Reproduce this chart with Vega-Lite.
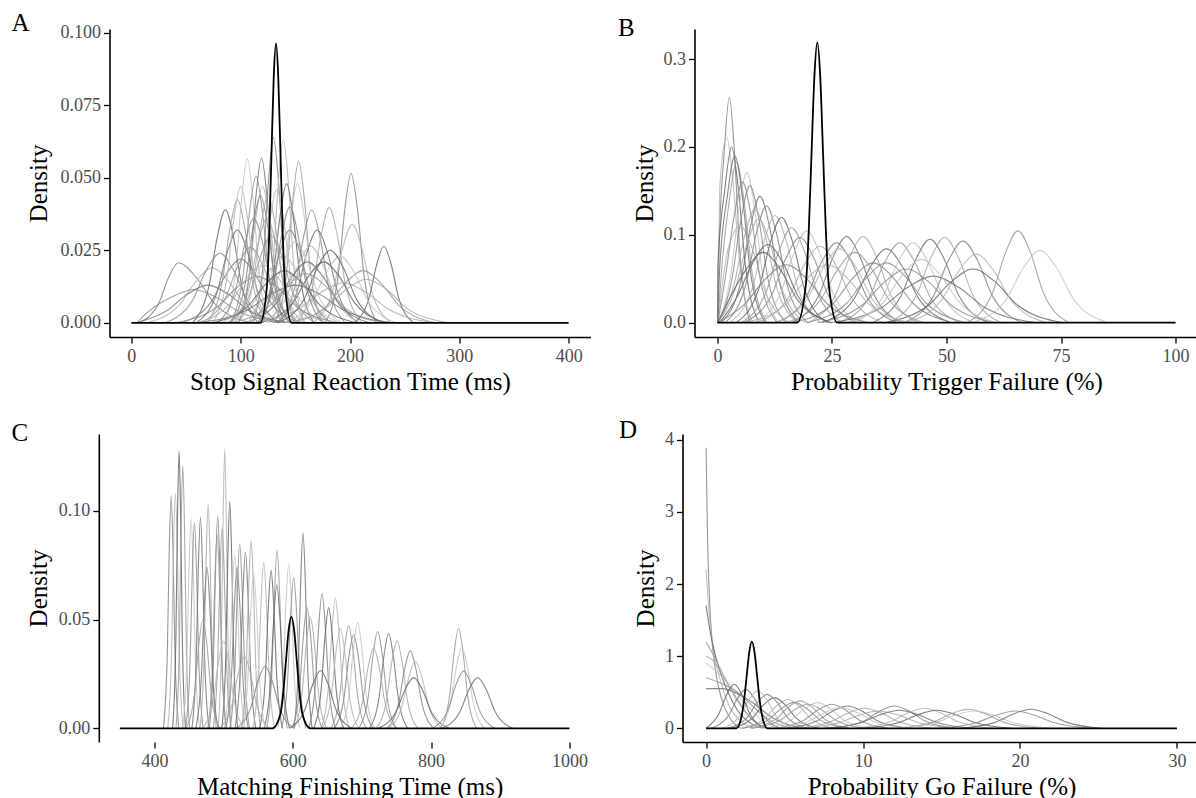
{
"$schema":"https://vega.github.io/schema/vega-lite/v6.json",
"background":"white",
"padding":{"left":11.5,"top":10,"right":0,"bottom":0},
"config":{
 "view":{"stroke":null},
 "axis":{"grid":false,"domainColor":"#000","domainWidth":1.6,"tickColor":"#000","tickWidth":1.3,"tickSize":6,"labelFont":"Liberation Serif","labelFontSize":18,"labelColor":"#4d4d4d","labelPadding":3,"titleFont":"Liberation Serif","titleFontSize":25,"titleFontWeight":"normal","titleColor":"#000","labelFlush":false,"labelOverlap":false},
 "axisX":{"labelPadding":4,"titleY":52.3,"titleBaseline":"alphabetic"},
 "axisY":{"titleAngle":270,"titleY":154,"titleAlign":"center","titleBaseline":"alphabetic"},
 "title":{"font":"Liberation Serif","fontSize":25,"fontWeight":"normal","color":"#000","anchor":"start","frame":"group","offset":0,"baseline":"alphabetic","dy":16},
 "line":{"interpolate":"monotone"}
},
"datasets":{
"A":[
{"c":1,"x":7,"y":0},{"c":1,"x":25,"y":0.0067},{"c":1,"x":34,"y":0.0156},{"c":1,"x":43,"y":0.0207},{"c":1,"x":59.5,"y":0.0156},{"c":1,"x":76,"y":0.0067},{"c":1,"x":109,"y":0},
{"c":2,"x":14,"y":0},{"c":2,"x":44,"y":0.0062},{"c":2,"x":59,"y":0.0143},{"c":2,"x":74,"y":0.019},{"c":2,"x":89,"y":0.0143},{"c":2,"x":104,"y":0.0062},{"c":2,"x":134,"y":0},
{"c":3,"x":56,"y":0},{"c":3,"x":71,"y":0.0127},{"c":3,"x":78.5,"y":0.0294},{"c":3,"x":86,"y":0.039},{"c":3,"x":93.5,"y":0.0294},{"c":3,"x":101,"y":0.0127},{"c":3,"x":116,"y":0},
{"c":4,"x":69,"y":0},{"c":4,"x":83,"y":0.0138},{"c":4,"x":90,"y":0.0321},{"c":4,"x":97,"y":0.0425},{"c":4,"x":104,"y":0.0321},{"c":4,"x":111,"y":0.0138},{"c":4,"x":125,"y":0},
{"c":5,"x":85,"y":0},{"c":5,"x":95.5,"y":0.0184},{"c":5,"x":100.8,"y":0.0427},{"c":5,"x":106,"y":0.0566},{"c":5,"x":111.2,"y":0.0427},{"c":5,"x":116.5,"y":0.0184},{"c":5,"x":127,"y":0},
{"c":6,"x":90.3,"y":0},{"c":6,"x":102.2,"y":0.0164},{"c":6,"x":108.1,"y":0.0382},{"c":6,"x":114,"y":0.0506},{"c":6,"x":119.9,"y":0.0382},{"c":6,"x":125.8,"y":0.0164},{"c":6,"x":137.7,"y":0},
{"c":7,"x":98,"y":0},{"c":7,"x":108.5,"y":0.0185},{"c":7,"x":113.8,"y":0.043},{"c":7,"x":119,"y":0.0569},{"c":7,"x":124.2,"y":0.043},{"c":7,"x":129.5,"y":0.0185},{"c":7,"x":140,"y":0},
{"c":8,"x":94.5,"y":0},{"c":8,"x":107.3,"y":0.0153},{"c":8,"x":113.6,"y":0.0355},{"c":8,"x":120,"y":0.047},{"c":8,"x":126.4,"y":0.0355},{"c":8,"x":132.7,"y":0.0153},{"c":8,"x":145.5,"y":0},
{"c":9,"x":111.1,"y":0},{"c":9,"x":120.6,"y":0.0207},{"c":9,"x":125.3,"y":0.0482},{"c":9,"x":130,"y":0.0638},{"c":9,"x":134.7,"y":0.0482},{"c":9,"x":139.4,"y":0.0207},{"c":9,"x":148.9,"y":0},
{"c":10,"x":120.1,"y":0},{"c":10,"x":129.6,"y":0.0205},{"c":10,"x":134.3,"y":0.0477},{"c":10,"x":139,"y":0.0632},{"c":10,"x":143.7,"y":0.0477},{"c":10,"x":148.4,"y":0.0205},{"c":10,"x":157.9,"y":0},
{"c":11,"x":117.1,"y":0},{"c":11,"x":129.6,"y":0.0156},{"c":11,"x":135.8,"y":0.0362},{"c":11,"x":142,"y":0.048},{"c":11,"x":148.2,"y":0.0362},{"c":11,"x":154.4,"y":0.0156},{"c":11,"x":166.9,"y":0},
{"c":12,"x":131.4,"y":0},{"c":12,"x":142.2,"y":0.0181},{"c":12,"x":147.6,"y":0.0421},{"c":12,"x":153,"y":0.0557},{"c":12,"x":158.4,"y":0.0421},{"c":12,"x":163.8,"y":0.0181},{"c":12,"x":174.6,"y":0},
{"c":13,"x":127.1,"y":0},{"c":13,"x":139.6,"y":0.0156},{"c":13,"x":145.8,"y":0.0362},{"c":13,"x":152,"y":0.048},{"c":13,"x":158.2,"y":0.0362},{"c":13,"x":164.4,"y":0.0156},{"c":13,"x":176.9,"y":0},
{"c":14,"x":134.4,"y":0},{"c":14,"x":149.7,"y":0.0127},{"c":14,"x":157.4,"y":0.0294},{"c":14,"x":165,"y":0.039},{"c":14,"x":172.6,"y":0.0294},{"c":14,"x":180.3,"y":0.0127},{"c":14,"x":195.6,"y":0},
{"c":15,"x":132.5,"y":0},{"c":15,"x":151.3,"y":0.0104},{"c":15,"x":160.6,"y":0.0242},{"c":15,"x":170,"y":0.032},{"c":15,"x":179.4,"y":0.0242},{"c":15,"x":188.8,"y":0.0104},{"c":15,"x":207.5,"y":0},
{"c":16,"x":151,"y":0},{"c":16,"x":166,"y":0.0129},{"c":16,"x":173.5,"y":0.03},{"c":16,"x":181,"y":0.0397},{"c":16,"x":188.5,"y":0.03},{"c":16,"x":196,"y":0.0129},{"c":16,"x":211,"y":0},
{"c":17,"x":177.6,"y":0},{"c":17,"x":189.3,"y":0.0167},{"c":17,"x":195.2,"y":0.0389},{"c":17,"x":201,"y":0.0515},{"c":17,"x":206.9,"y":0.0389},{"c":17,"x":212.7,"y":0.0167},{"c":17,"x":224.4,"y":0},
{"c":18,"x":166.6,"y":0},{"c":18,"x":184.3,"y":0.011},{"c":18,"x":193.2,"y":0.0257},{"c":18,"x":202,"y":0.034},{"c":18,"x":210.9,"y":0.0257},{"c":18,"x":219.7,"y":0.011},{"c":18,"x":237.4,"y":0},
{"c":19,"x":204,"y":0},{"c":19,"x":217.5,"y":0.0086},{"c":19,"x":224.3,"y":0.0199},{"c":19,"x":231,"y":0.0264},{"c":19,"x":237.8,"y":0.0199},{"c":19,"x":244.5,"y":0.0086},{"c":19,"x":258,"y":0},
{"c":20,"x":146,"y":0},{"c":20,"x":179,"y":0.0059},{"c":20,"x":195.5,"y":0.0136},{"c":20,"x":212,"y":0.018},{"c":20,"x":228.5,"y":0.0136},{"c":20,"x":245,"y":0.0059},{"c":20,"x":278,"y":0},
{"c":21,"x":140,"y":0},{"c":21,"x":165.5,"y":0.0075},{"c":21,"x":178.3,"y":0.0174},{"c":21,"x":191,"y":0.023},{"c":21,"x":203.8,"y":0.0174},{"c":21,"x":216.5,"y":0.0075},{"c":21,"x":242,"y":0},
{"c":22,"x":5,"y":0},{"c":22,"x":15,"y":0.0037},{"c":22,"x":36,"y":0.0087},{"c":22,"x":57,"y":0.0115},{"c":22,"x":78,"y":0.0087},{"c":22,"x":99,"y":0.0037},{"c":22,"x":141,"y":0},
{"c":23,"x":59.5,"y":0},{"c":23,"x":78.3,"y":0.0104},{"c":23,"x":87.6,"y":0.0242},{"c":23,"x":97,"y":0.032},{"c":23,"x":106.4,"y":0.0242},{"c":23,"x":115.8,"y":0.0104},{"c":23,"x":134.5,"y":0},
{"c":24,"x":91,"y":0},{"c":24,"x":107.5,"y":0.0117},{"c":24,"x":115.8,"y":0.0272},{"c":24,"x":124,"y":0.036},{"c":24,"x":132.3,"y":0.0272},{"c":24,"x":140.5,"y":0.0117},{"c":24,"x":157,"y":0},
{"c":25,"x":107.5,"y":0},{"c":25,"x":126.3,"y":0.0104},{"c":25,"x":135.6,"y":0.0242},{"c":25,"x":145,"y":0.032},{"c":25,"x":154.4,"y":0.0242},{"c":25,"x":163.8,"y":0.0104},{"c":25,"x":182.5,"y":0},
{"c":26,"x":119,"y":0},{"c":26,"x":141.5,"y":0.0086},{"c":26,"x":152.8,"y":0.0199},{"c":26,"x":164,"y":0.0264},{"c":26,"x":175.3,"y":0.0199},{"c":26,"x":186.5,"y":0.0086},{"c":26,"x":209,"y":0},
{"c":27,"x":119,"y":0},{"c":27,"x":147.5,"y":0.0068},{"c":27,"x":161.8,"y":0.0159},{"c":27,"x":176,"y":0.021},{"c":27,"x":190.3,"y":0.0159},{"c":27,"x":204.5,"y":0.0068},{"c":27,"x":233,"y":0},
{"c":28,"x":62.8,"y":0},{"c":28,"x":85.9,"y":0.0085},{"c":28,"x":97.5,"y":0.0196},{"c":28,"x":109,"y":0.026},{"c":28,"x":120.5,"y":0.0196},{"c":28,"x":132.1,"y":0.0085},{"c":28,"x":155.2,"y":0},
{"c":29,"x":86.8,"y":0},{"c":29,"x":112.9,"y":0.0075},{"c":29,"x":126,"y":0.0174},{"c":29,"x":139,"y":0.023},{"c":29,"x":152,"y":0.0174},{"c":29,"x":165.1,"y":0.0075},{"c":29,"x":191.2,"y":0},
{"c":30,"x":30.9,"y":0},{"c":30,"x":56,"y":0.0078},{"c":30,"x":68.5,"y":0.0181},{"c":30,"x":81,"y":0.024},{"c":30,"x":93.5,"y":0.0181},{"c":30,"x":106,"y":0.0078},{"c":30,"x":131.1,"y":0},
{"c":31,"x":104,"y":0},{"c":31,"x":132.5,"y":0.0068},{"c":31,"x":146.8,"y":0.0159},{"c":31,"x":161,"y":0.021},{"c":31,"x":175.3,"y":0.0159},{"c":31,"x":189.5,"y":0.0068},{"c":31,"x":218,"y":0},
{"c":32,"x":110,"y":0},{"c":32,"x":152,"y":0.0045},{"c":32,"x":173,"y":0.0104},{"c":32,"x":194,"y":0.0138},{"c":32,"x":215,"y":0.0104},{"c":32,"x":236,"y":0.0045},{"c":32,"x":278,"y":0},
{"c":33,"x":91,"y":0},{"c":33,"x":104.5,"y":0.0143},{"c":33,"x":111.3,"y":0.0332},{"c":33,"x":118,"y":0.044},{"c":33,"x":124.8,"y":0.0332},{"c":33,"x":131.5,"y":0.0143},{"c":33,"x":145,"y":0},
{"c":34,"x":106.9,"y":0},{"c":34,"x":120,"y":0.015},{"c":34,"x":126.5,"y":0.0347},{"c":34,"x":133,"y":0.046},{"c":34,"x":139.5,"y":0.0347},{"c":34,"x":146,"y":0.015},{"c":34,"x":159.1,"y":0},
{"c":35,"x":134,"y":0},{"c":35,"x":158,"y":0.0081},{"c":35,"x":170,"y":0.0189},{"c":35,"x":182,"y":0.025},{"c":35,"x":194,"y":0.0189},{"c":35,"x":206,"y":0.0081},{"c":35,"x":230,"y":0},
{"c":36,"x":88.1,"y":0},{"c":36,"x":108.1,"y":0.0098},{"c":36,"x":118,"y":0.0227},{"c":36,"x":128,"y":0.03},{"c":36,"x":138,"y":0.0227},{"c":36,"x":147.9,"y":0.0098},{"c":36,"x":167.9,"y":0},
{"c":37,"x":107.1,"y":0},{"c":37,"x":128.6,"y":0.0091},{"c":37,"x":139.3,"y":0.0211},{"c":37,"x":150,"y":0.028},{"c":37,"x":160.7,"y":0.0211},{"c":37,"x":171.5,"y":0.0091},{"c":37,"x":192.9,"y":0},
{"c":38,"x":79,"y":0},{"c":38,"x":95.5,"y":0.0117},{"c":38,"x":103.8,"y":0.0272},{"c":38,"x":112,"y":0.036},{"c":38,"x":120.3,"y":0.0272},{"c":38,"x":128.5,"y":0.0117},{"c":38,"x":145,"y":0},
{"c":39,"x":5,"y":0},{"c":39,"x":32.5,"y":0.0042},{"c":39,"x":51,"y":0.0098},{"c":39,"x":70,"y":0.013},{"c":39,"x":89,"y":0.0098},{"c":39,"x":107.5,"y":0.0042},{"c":39,"x":145,"y":0},
{"c":40,"x":140,"y":0},{"c":40,"x":177.5,"y":0.0049},{"c":40,"x":196,"y":0.0113},{"c":40,"x":215,"y":0.015},{"c":40,"x":234,"y":0.0113},{"c":40,"x":252.5,"y":0.0049},{"c":40,"x":290,"y":0},
{"c":41,"x":46,"y":0},{"c":41,"x":73,"y":0.0072},{"c":41,"x":86.5,"y":0.0166},{"c":41,"x":100,"y":0.022},{"c":41,"x":113.5,"y":0.0166},{"c":41,"x":127,"y":0.0072},{"c":41,"x":154,"y":0},
{"c":42,"x":60,"y":0},{"c":42,"x":90,"y":0.0065},{"c":42,"x":105,"y":0.0151},{"c":42,"x":120,"y":0.02},{"c":42,"x":135,"y":0.0151},{"c":42,"x":150,"y":0.0065},{"c":42,"x":180,"y":0},
{"c":43,"x":74,"y":0},{"c":43,"x":107,"y":0.0059},{"c":43,"x":123.5,"y":0.0136},{"c":43,"x":140,"y":0.018},{"c":43,"x":156.5,"y":0.0136},{"c":43,"x":173,"y":0.0059},{"c":43,"x":206,"y":0},
{"c":44,"x":91,"y":0},{"c":44,"x":125.5,"y":0.0055},{"c":44,"x":142.8,"y":0.0128},{"c":44,"x":160,"y":0.017},{"c":44,"x":177.3,"y":0.0128},{"c":44,"x":194.5,"y":0.0055},{"c":44,"x":229,"y":0},
{"c":45,"x":82,"y":0},{"c":45,"x":106,"y":0.0081},{"c":45,"x":118,"y":0.0189},{"c":45,"x":130,"y":0.025},{"c":45,"x":142,"y":0.0189},{"c":45,"x":154,"y":0.0081},{"c":45,"x":178,"y":0},
{"c":46,"x":40,"y":0},{"c":46,"x":77.5,"y":0.0052},{"c":46,"x":96.3,"y":0.0121},{"c":46,"x":115,"y":0.016},{"c":46,"x":133.8,"y":0.0121},{"c":46,"x":152.5,"y":0.0052},{"c":46,"x":190,"y":0},
{"c":47,"x":60,"y":0},{"c":47,"x":105,"y":0.0042},{"c":47,"x":127.5,"y":0.0098},{"c":47,"x":150,"y":0.013},{"c":47,"x":172.5,"y":0.0098},{"c":47,"x":195,"y":0.0042},{"c":47,"x":240,"y":0},
{"c":48,"x":98,"y":0},{"c":48,"x":111.5,"y":0.0143},{"c":48,"x":118.3,"y":0.0332},{"c":48,"x":125,"y":0.044},{"c":48,"x":131.8,"y":0.0332},{"c":48,"x":138.5,"y":0.0143},{"c":48,"x":152,"y":0},
{"c":49,"x":115,"y":0},{"c":49,"x":130,"y":0.013},{"c":49,"x":137.5,"y":0.0302},{"c":49,"x":145,"y":0.04},{"c":49,"x":152.5,"y":0.0302},{"c":49,"x":160,"y":0.013},{"c":49,"x":175,"y":0},
{"c":50,"x":74.5,"y":0},{"c":50,"x":87.3,"y":0.0153},{"c":50,"x":93.6,"y":0.0355},{"c":50,"x":100,"y":0.047},{"c":50,"x":106.4,"y":0.0355},{"c":50,"x":112.7,"y":0.0153},{"c":50,"x":125.5,"y":0}
],
"Ab":[{"x":0,"y":0},{"x":118,"y":0},{"x":124.1,"y":0.013},{"x":126.15,"y":0.0313},{"x":128.2,"y":0.0585},{"x":130.25,"y":0.0849},{"x":132.3,"y":0.0963},{"x":134.35,"y":0.0849},{"x":136.4,"y":0.0585},{"x":138.45,"y":0.0313},{"x":140.5,"y":0.013},{"x":146.6,"y":0},{"x":400,"y":0}],
"B":[
{"c":1,"x":0.1,"y":0},{"c":1,"x":0.35,"y":0.0834},{"c":1,"x":1.48,"y":0.1937},{"c":1,"x":2.6,"y":0.2566},{"c":1,"x":3.73,"y":0.1937},{"c":1,"x":4.85,"y":0.0834},{"c":1,"x":7.1,"y":0},
{"c":2,"x":0.1,"y":0},{"c":2,"x":0.58,"y":0.159},{"c":2,"x":2,"y":0.211},{"c":2,"x":3.43,"y":0.159},{"c":2,"x":4.85,"y":0.0686},{"c":2,"x":7.7,"y":0},
{"c":3,"x":0.05,"y":0},{"c":3,"x":0.1,"y":0.065},{"c":3,"x":1.6,"y":0.151},{"c":3,"x":3.1,"y":0.2},{"c":3,"x":4.6,"y":0.151},{"c":3,"x":6.1,"y":0.065},{"c":3,"x":9.1,"y":0},
{"c":4,"x":0.1,"y":0},{"c":4,"x":0.9,"y":0.0592},{"c":4,"x":2.55,"y":0.1374},{"c":4,"x":4.2,"y":0.182},{"c":4,"x":5.85,"y":0.1374},{"c":4,"x":7.5,"y":0.0592},{"c":4,"x":10.8,"y":0},
{"c":5,"x":0.1,"y":0},{"c":5,"x":2.95,"y":0.0556},{"c":5,"x":4.68,"y":0.1291},{"c":5,"x":6.4,"y":0.171},{"c":5,"x":8.13,"y":0.1291},{"c":5,"x":9.85,"y":0.0556},{"c":5,"x":13.3,"y":0},
{"c":6,"x":0.2,"y":0},{"c":6,"x":3.2,"y":0.0507},{"c":6,"x":5.15,"y":0.1178},{"c":6,"x":7.1,"y":0.156},{"c":6,"x":9.05,"y":0.1178},{"c":6,"x":11,"y":0.0507},{"c":6,"x":14.9,"y":0},
{"c":7,"x":0.9,"y":0},{"c":7,"x":5.1,"y":0.0468},{"c":7,"x":7.2,"y":0.1087},{"c":7,"x":9.3,"y":0.144},{"c":7,"x":11.4,"y":0.1087},{"c":7,"x":13.5,"y":0.0468},{"c":7,"x":17.7,"y":0},
{"c":8,"x":0.1,"y":0},{"c":8,"x":3.55,"y":0.0419},{"c":8,"x":5.88,"y":0.0974},{"c":8,"x":8.2,"y":0.129},{"c":8,"x":10.53,"y":0.0974},{"c":8,"x":12.85,"y":0.0419},{"c":8,"x":17.5,"y":0},
{"c":9,"x":1.7,"y":0},{"c":9,"x":6.2,"y":0.0432},{"c":9,"x":8.45,"y":0.1004},{"c":9,"x":10.7,"y":0.133},{"c":9,"x":12.95,"y":0.1004},{"c":9,"x":15.2,"y":0.0432},{"c":9,"x":19.7,"y":0},
{"c":10,"x":2.7,"y":0},{"c":10,"x":7.65,"y":0.0397},{"c":10,"x":10.13,"y":0.0921},{"c":10,"x":12.6,"y":0.122},{"c":10,"x":15.08,"y":0.0921},{"c":10,"x":17.55,"y":0.0397},{"c":10,"x":22.5,"y":0},
{"c":11,"x":4.1,"y":0},{"c":11,"x":9.05,"y":0.039},{"c":11,"x":11.53,"y":0.0906},{"c":11,"x":14,"y":0.12},{"c":11,"x":16.48,"y":0.0906},{"c":11,"x":18.95,"y":0.039},{"c":11,"x":23.9,"y":0},
{"c":12,"x":5.1,"y":0},{"c":12,"x":10.65,"y":0.0351},{"c":12,"x":13.43,"y":0.0815},{"c":12,"x":16.2,"y":0.108},{"c":12,"x":18.98,"y":0.0815},{"c":12,"x":21.75,"y":0.0351},{"c":12,"x":27.3,"y":0},
{"c":13,"x":8.1,"y":0},{"c":13,"x":13.8,"y":0.034},{"c":13,"x":16.65,"y":0.0789},{"c":13,"x":19.5,"y":0.1045},{"c":13,"x":22.35,"y":0.0789},{"c":13,"x":25.2,"y":0.034},{"c":13,"x":30.9,"y":0},
{"c":14,"x":5.7,"y":0},{"c":14,"x":11.85,"y":0.0315},{"c":14,"x":14.93,"y":0.0732},{"c":14,"x":18,"y":0.097},{"c":14,"x":21.08,"y":0.0732},{"c":14,"x":24.15,"y":0.0315},{"c":14,"x":30.3,"y":0},
{"c":15,"x":16.2,"y":0},{"c":15,"x":22.2,"y":0.0319},{"c":15,"x":25.2,"y":0.074},{"c":15,"x":28.2,"y":0.098},{"c":15,"x":31.2,"y":0.074},{"c":15,"x":34.2,"y":0.0319},{"c":15,"x":40.2,"y":0},
{"c":16,"x":19.8,"y":0},{"c":16,"x":25.8,"y":0.0319},{"c":16,"x":28.8,"y":0.074},{"c":16,"x":31.8,"y":0.098},{"c":16,"x":34.8,"y":0.074},{"c":16,"x":37.8,"y":0.0319},{"c":16,"x":43.8,"y":0},
{"c":17,"x":12.8,"y":0},{"c":17,"x":19.4,"y":0.0296},{"c":17,"x":22.7,"y":0.0687},{"c":17,"x":26,"y":0.091},{"c":17,"x":29.3,"y":0.0687},{"c":17,"x":32.6,"y":0.0296},{"c":17,"x":39.2,"y":0},
{"c":18,"x":12.6,"y":0},{"c":18,"x":19.65,"y":0.0273},{"c":18,"x":23.18,"y":0.0634},{"c":18,"x":26.7,"y":0.084},{"c":18,"x":30.23,"y":0.0634},{"c":18,"x":33.75,"y":0.0273},{"c":18,"x":40.8,"y":0},
{"c":19,"x":22.8,"y":0},{"c":19,"x":29.85,"y":0.0273},{"c":19,"x":33.38,"y":0.0634},{"c":19,"x":36.9,"y":0.084},{"c":19,"x":40.43,"y":0.0634},{"c":19,"x":43.95,"y":0.0273},{"c":19,"x":51,"y":0},
{"c":20,"x":26.6,"y":0},{"c":20,"x":33.2,"y":0.0296},{"c":20,"x":36.5,"y":0.0687},{"c":20,"x":39.8,"y":0.091},{"c":20,"x":43.1,"y":0.0687},{"c":20,"x":46.4,"y":0.0296},{"c":20,"x":53,"y":0},
{"c":21,"x":29.5,"y":0},{"c":21,"x":36.1,"y":0.0296},{"c":21,"x":39.4,"y":0.0687},{"c":21,"x":42.7,"y":0.091},{"c":21,"x":46,"y":0.0687},{"c":21,"x":49.3,"y":0.0296},{"c":21,"x":55.9,"y":0},
{"c":22,"x":19.5,"y":0},{"c":22,"x":28.2,"y":0.0221},{"c":22,"x":32.55,"y":0.0513},{"c":22,"x":36.9,"y":0.068},{"c":22,"x":41.25,"y":0.0513},{"c":22,"x":45.6,"y":0.0221},{"c":22,"x":54.3,"y":0},
{"c":23,"x":33.8,"y":0},{"c":23,"x":40.1,"y":0.0309},{"c":23,"x":43.25,"y":0.0717},{"c":23,"x":46.4,"y":0.095},{"c":23,"x":49.55,"y":0.0717},{"c":23,"x":52.7,"y":0.0309},{"c":23,"x":59,"y":0},
{"c":24,"x":37.3,"y":0},{"c":24,"x":43.45,"y":0.0315},{"c":24,"x":46.53,"y":0.0732},{"c":24,"x":49.6,"y":0.097},{"c":24,"x":52.68,"y":0.0732},{"c":24,"x":55.75,"y":0.0315},{"c":24,"x":61.9,"y":0},
{"c":25,"x":40.7,"y":0},{"c":25,"x":47.15,"y":0.0302},{"c":25,"x":50.38,"y":0.0702},{"c":25,"x":53.6,"y":0.093},{"c":25,"x":56.83,"y":0.0702},{"c":25,"x":60.05,"y":0.0302},{"c":25,"x":66.5,"y":0},
{"c":26,"x":41.2,"y":0},{"c":26,"x":48.85,"y":0.0254},{"c":26,"x":52.68,"y":0.0589},{"c":26,"x":56.5,"y":0.078},{"c":26,"x":60.33,"y":0.0589},{"c":26,"x":64.15,"y":0.0254},{"c":26,"x":71.8,"y":0},
{"c":27,"x":36.3,"y":0},{"c":27,"x":46.05,"y":0.0198},{"c":27,"x":50.93,"y":0.0461},{"c":27,"x":55.8,"y":0.061},{"c":27,"x":60.68,"y":0.0461},{"c":27,"x":65.55,"y":0.0198},{"c":27,"x":75.3,"y":0},
{"c":28,"x":54.5,"y":0},{"c":28,"x":60.05,"y":0.034},{"c":28,"x":62.83,"y":0.0789},{"c":28,"x":65.6,"y":0.1045},{"c":28,"x":68.38,"y":0.0789},{"c":28,"x":71.15,"y":0.034},{"c":28,"x":76.7,"y":0},
{"c":29,"x":55.7,"y":0},{"c":29,"x":63.05,"y":0.0267},{"c":29,"x":66.73,"y":0.0619},{"c":29,"x":70.4,"y":0.082},{"c":29,"x":74.08,"y":0.0619},{"c":29,"x":77.75,"y":0.0267},{"c":29,"x":85.1,"y":0},
{"c":30,"x":21.8,"y":0},{"c":30,"x":31.55,"y":0.0198},{"c":30,"x":36.43,"y":0.0461},{"c":30,"x":41.3,"y":0.061},{"c":30,"x":46.18,"y":0.0461},{"c":30,"x":51.05,"y":0.0198},{"c":30,"x":60.8,"y":0},
{"c":31,"x":24.6,"y":0},{"c":31,"x":35.85,"y":0.0172},{"c":31,"x":41.48,"y":0.04},{"c":31,"x":47.1,"y":0.053},{"c":31,"x":52.73,"y":0.04},{"c":31,"x":58.35,"y":0.0172},{"c":31,"x":69.6,"y":0},
{"c":32,"x":8.6,"y":0},{"c":32,"x":15.5,"y":0.0283},{"c":32,"x":18.95,"y":0.0657},{"c":32,"x":22.4,"y":0.087},{"c":32,"x":25.85,"y":0.0657},{"c":32,"x":29.3,"y":0.0283},{"c":32,"x":36.2,"y":0},
{"c":33,"x":16.6,"y":0},{"c":33,"x":25.3,"y":0.0221},{"c":33,"x":29.65,"y":0.0513},{"c":33,"x":34,"y":0.068},{"c":33,"x":38.35,"y":0.0513},{"c":33,"x":42.7,"y":0.0221},{"c":33,"x":51.4,"y":0},
{"c":34,"x":0.1,"y":0},{"c":34,"x":2.3,"y":0.083},{"c":34,"x":5,"y":0.11},{"c":34,"x":7.7,"y":0.083},{"c":34,"x":10.4,"y":0.0358},{"c":34,"x":15.8,"y":0},
{"c":35,"x":0.5,"y":0},{"c":35,"x":4.25,"y":0.0289},{"c":35,"x":7.63,"y":0.0672},{"c":35,"x":11,"y":0.089},{"c":35,"x":14.38,"y":0.0672},{"c":35,"x":17.75,"y":0.0289},{"c":35,"x":24.5,"y":0},
{"c":36,"x":15,"y":0},{"c":36,"x":22.5,"y":0.026},{"c":36,"x":26.25,"y":0.0604},{"c":36,"x":30,"y":0.08},{"c":36,"x":33.75,"y":0.0604},{"c":36,"x":37.5,"y":0.026},{"c":36,"x":45,"y":0},
{"c":37,"x":28,"y":0},{"c":37,"x":36.25,"y":0.0234},{"c":37,"x":40.38,"y":0.0544},{"c":37,"x":44.5,"y":0.072},{"c":37,"x":48.63,"y":0.0544},{"c":37,"x":52.75,"y":0.0234},{"c":37,"x":61,"y":0},
{"c":38,"x":0.1,"y":0},{"c":38,"x":1.75,"y":0.052},{"c":38,"x":3.63,"y":0.1208},{"c":38,"x":5.5,"y":0.16},{"c":38,"x":7.38,"y":0.1208},{"c":38,"x":9.25,"y":0.052},{"c":38,"x":13,"y":0},
{"c":39,"x":0.1,"y":0},{"c":39,"x":0.5,"y":0.0618},{"c":39,"x":2.15,"y":0.1435},{"c":39,"x":3.8,"y":0.19},{"c":39,"x":5.45,"y":0.1435},{"c":39,"x":7.1,"y":0.0618},{"c":39,"x":10.4,"y":0},
{"c":40,"x":0.1,"y":0},{"c":40,"x":3.9,"y":0.0384},{"c":40,"x":6.45,"y":0.0891},{"c":40,"x":9,"y":0.118},{"c":40,"x":11.55,"y":0.0891},{"c":40,"x":14.1,"y":0.0384},{"c":40,"x":19.2,"y":0},
{"c":41,"x":0.1,"y":0},{"c":41,"x":6,"y":0.0215},{"c":41,"x":10.5,"y":0.0498},{"c":41,"x":15,"y":0.066},{"c":41,"x":19.5,"y":0.0498},{"c":41,"x":24,"y":0.0215},{"c":41,"x":33,"y":0},
{"c":42,"x":6,"y":0},{"c":42,"x":15,"y":0.0215},{"c":42,"x":19.5,"y":0.0498},{"c":42,"x":24,"y":0.066},{"c":42,"x":28.5,"y":0.0498},{"c":42,"x":33,"y":0.0215},{"c":42,"x":42,"y":0},
{"c":43,"x":0.1,"y":0},{"c":43,"x":2.5,"y":0.026},{"c":43,"x":6.25,"y":0.0604},{"c":43,"x":10,"y":0.08},{"c":43,"x":13.75,"y":0.0604},{"c":43,"x":17.5,"y":0.026},{"c":43,"x":25,"y":0}
],
"Bb":[{"x":0,"y":0},{"x":17.4,"y":0},{"x":19.3,"y":0.0431},{"x":19.93,"y":0.1037},{"x":20.55,"y":0.1936},{"x":21.18,"y":0.2814},{"x":21.8,"y":0.319},{"x":22.43,"y":0.2814},{"x":23.05,"y":0.1936},{"x":23.68,"y":0.1037},{"x":24.3,"y":0.0431},{"x":26.2,"y":0},{"x":100,"y":0}],
"C":[
{"c":1,"x":413,"y":0},{"c":1,"x":418.6,"y":0.0348},{"c":1,"x":421.3,"y":0.0808},{"c":1,"x":424.1,"y":0.107},{"c":1,"x":426.9,"y":0.0808},{"c":1,"x":429.6,"y":0.0348},{"c":1,"x":435.2,"y":0},
{"c":2,"x":419.2,"y":0},{"c":2,"x":424.8,"y":0.0351},{"c":2,"x":427.5,"y":0.0815},{"c":2,"x":430.3,"y":0.108},{"c":2,"x":433.1,"y":0.0815},{"c":2,"x":435.9,"y":0.0351},{"c":2,"x":441.4,"y":0},
{"c":3,"x":426.3,"y":0},{"c":3,"x":431,"y":0.0415},{"c":3,"x":433.3,"y":0.0963},{"c":3,"x":435.6,"y":0.1276},{"c":3,"x":437.9,"y":0.0963},{"c":3,"x":440.3,"y":0.0415},{"c":3,"x":444.9,"y":0},
{"c":4,"x":431.1,"y":0},{"c":4,"x":436.1,"y":0.0392},{"c":4,"x":438.5,"y":0.0911},{"c":4,"x":441,"y":0.1207},{"c":4,"x":443.5,"y":0.0911},{"c":4,"x":446,"y":0.0392},{"c":4,"x":450.9,"y":0},
{"c":5,"x":440.7,"y":0},{"c":5,"x":446.9,"y":0.0313},{"c":5,"x":449.9,"y":0.0726},{"c":5,"x":453,"y":0.0962},{"c":5,"x":456.1,"y":0.0726},{"c":5,"x":459.2,"y":0.0313},{"c":5,"x":465.3,"y":0},
{"c":6,"x":445.2,"y":0},{"c":6,"x":451.5,"y":0.0307},{"c":6,"x":454.7,"y":0.0714},{"c":6,"x":457.8,"y":0.0946},{"c":6,"x":460.9,"y":0.0714},{"c":6,"x":464.1,"y":0.0307},{"c":6,"x":470.4,"y":0},
{"c":7,"x":454.2,"y":0},{"c":7,"x":460.4,"y":0.0315},{"c":7,"x":463.4,"y":0.0732},{"c":7,"x":466.5,"y":0.097},{"c":7,"x":469.6,"y":0.0732},{"c":7,"x":472.7,"y":0.0315},{"c":7,"x":478.8,"y":0},
{"c":8,"x":465.9,"y":0},{"c":8,"x":471.8,"y":0.0335},{"c":8,"x":474.7,"y":0.0778},{"c":8,"x":477.6,"y":0.103},{"c":8,"x":480.5,"y":0.0778},{"c":8,"x":483.5,"y":0.0335},{"c":8,"x":489.3,"y":0},
{"c":9,"x":479.2,"y":0},{"c":9,"x":485.4,"y":0.0318},{"c":9,"x":488.4,"y":0.0738},{"c":9,"x":491.5,"y":0.0977},{"c":9,"x":494.6,"y":0.0738},{"c":9,"x":497.7,"y":0.0318},{"c":9,"x":503.8,"y":0},
{"c":10,"x":492.3,"y":0},{"c":10,"x":497,"y":0.0417},{"c":10,"x":499.3,"y":0.0969},{"c":10,"x":501.6,"y":0.1284},{"c":10,"x":503.9,"y":0.0969},{"c":10,"x":506.3,"y":0.0417},{"c":10,"x":510.9,"y":0},
{"c":11,"x":497.5,"y":0},{"c":11,"x":503.2,"y":0.0339},{"c":11,"x":506.1,"y":0.0787},{"c":11,"x":508.9,"y":0.1043},{"c":11,"x":511.7,"y":0.0787},{"c":11,"x":514.6,"y":0.0339},{"c":11,"x":520.3,"y":0},
{"c":12,"x":484.9,"y":0},{"c":12,"x":491.4,"y":0.03},{"c":12,"x":494.6,"y":0.0697},{"c":12,"x":497.8,"y":0.0923},{"c":12,"x":501,"y":0.0697},{"c":12,"x":504.3,"y":0.03},{"c":12,"x":510.7,"y":0},
{"c":13,"x":501,"y":0},{"c":13,"x":508.5,"y":0.026},{"c":13,"x":512.3,"y":0.0604},{"c":13,"x":516,"y":0.08},{"c":13,"x":519.8,"y":0.0604},{"c":13,"x":523.5,"y":0.026},{"c":13,"x":531,"y":0},
{"c":14,"x":509.2,"y":0},{"c":14,"x":516.3,"y":0.0275},{"c":14,"x":519.8,"y":0.0639},{"c":14,"x":523.3,"y":0.0847},{"c":14,"x":526.8,"y":0.0639},{"c":14,"x":530.4,"y":0.0275},{"c":14,"x":537.4,"y":0},
{"c":15,"x":516.5,"y":0},{"c":15,"x":524,"y":0.0263},{"c":15,"x":527.8,"y":0.061},{"c":15,"x":531.5,"y":0.0808},{"c":15,"x":535.3,"y":0.061},{"c":15,"x":539,"y":0.0263},{"c":15,"x":546.5,"y":0},
{"c":16,"x":525.9,"y":0},{"c":16,"x":532.8,"y":0.028},{"c":16,"x":536.3,"y":0.0651},{"c":16,"x":539.7,"y":0.0862},{"c":16,"x":543.2,"y":0.0651},{"c":16,"x":546.6,"y":0.028},{"c":16,"x":553.5,"y":0},
{"c":17,"x":503.3,"y":0},{"c":17,"x":511.4,"y":0.0241},{"c":17,"x":515.5,"y":0.0559},{"c":17,"x":519.5,"y":0.074},{"c":17,"x":523.6,"y":0.0559},{"c":17,"x":527.6,"y":0.0241},{"c":17,"x":535.7,"y":0},
{"c":18,"x":542.4,"y":0},{"c":18,"x":550.2,"y":0.0248},{"c":18,"x":554.1,"y":0.0575},{"c":18,"x":558,"y":0.0762},{"c":18,"x":561.9,"y":0.0575},{"c":18,"x":565.8,"y":0.0248},{"c":18,"x":573.6,"y":0},
{"c":19,"x":552.1,"y":0},{"c":19,"x":560.4,"y":0.0236},{"c":19,"x":564.5,"y":0.0549},{"c":19,"x":568.6,"y":0.0727},{"c":19,"x":572.7,"y":0.0549},{"c":19,"x":576.9,"y":0.0236},{"c":19,"x":585.1,"y":0},
{"c":20,"x":562.6,"y":0},{"c":20,"x":570,"y":0.0266},{"c":20,"x":573.6,"y":0.0618},{"c":20,"x":577.3,"y":0.0819},{"c":20,"x":581,"y":0.0618},{"c":20,"x":584.7,"y":0.0266},{"c":20,"x":592,"y":0},
{"c":21,"x":578.2,"y":0},{"c":21,"x":586.2,"y":0.0245},{"c":21,"x":590.1,"y":0.057},{"c":21,"x":594.1,"y":0.0755},{"c":21,"x":598.1,"y":0.057},{"c":21,"x":602,"y":0.0245},{"c":21,"x":610,"y":0},
{"c":22,"x":583.9,"y":0},{"c":22,"x":592.6,"y":0.0225},{"c":22,"x":596.9,"y":0.0523},{"c":22,"x":601.3,"y":0.0693},{"c":22,"x":605.7,"y":0.0523},{"c":22,"x":610,"y":0.0225},{"c":22,"x":618.7,"y":0},
{"c":23,"x":601.6,"y":0},{"c":23,"x":608.2,"y":0.0292},{"c":23,"x":611.5,"y":0.0679},{"c":23,"x":614.8,"y":0.0899},{"c":23,"x":618.1,"y":0.0679},{"c":23,"x":621.4,"y":0.0292},{"c":23,"x":628,"y":0},
{"c":24,"x":602,"y":0},{"c":24,"x":613.7,"y":0.0166},{"c":24,"x":619.6,"y":0.0387},{"c":24,"x":625.4,"y":0.0512},{"c":24,"x":631.3,"y":0.0387},{"c":24,"x":637.1,"y":0.0166},{"c":24,"x":648.8,"y":0},
{"c":25,"x":623.1,"y":0},{"c":25,"x":632.7,"y":0.0202},{"c":25,"x":637.5,"y":0.0468},{"c":25,"x":642.3,"y":0.062},{"c":25,"x":647.1,"y":0.0468},{"c":25,"x":651.9,"y":0.0202},{"c":25,"x":661.5,"y":0},
{"c":26,"x":641.5,"y":0},{"c":26,"x":651.6,"y":0.0194},{"c":26,"x":656.6,"y":0.0451},{"c":26,"x":661.6,"y":0.0598},{"c":26,"x":666.6,"y":0.0451},{"c":26,"x":671.7,"y":0.0194},{"c":26,"x":681.7,"y":0},
{"c":27,"x":630.3,"y":0},{"c":27,"x":641.1,"y":0.018},{"c":27,"x":646.5,"y":0.0419},{"c":27,"x":651.9,"y":0.0555},{"c":27,"x":657.3,"y":0.0419},{"c":27,"x":662.7,"y":0.018},{"c":27,"x":673.5,"y":0},
{"c":28,"x":655.3,"y":0},{"c":28,"x":668.1,"y":0.0153},{"c":28,"x":674.4,"y":0.0356},{"c":28,"x":680.8,"y":0.0471},{"c":28,"x":687.2,"y":0.0356},{"c":28,"x":693.6,"y":0.0153},{"c":28,"x":706.3,"y":0},
{"c":29,"x":669.2,"y":0},{"c":29,"x":681.5,"y":0.0158},{"c":29,"x":687.7,"y":0.0367},{"c":29,"x":693.8,"y":0.0486},{"c":29,"x":699.9,"y":0.0367},{"c":29,"x":706.1,"y":0.0158},{"c":29,"x":718.4,"y":0},
{"c":30,"x":695.7,"y":0},{"c":30,"x":709.2,"y":0.0145},{"c":30,"x":716,"y":0.0336},{"c":30,"x":722.7,"y":0.0445},{"c":30,"x":729.5,"y":0.0336},{"c":30,"x":736.2,"y":0.0145},{"c":30,"x":749.7,"y":0},
{"c":31,"x":711,"y":0},{"c":31,"x":724.8,"y":0.0142},{"c":31,"x":731.7,"y":0.0329},{"c":31,"x":738.6,"y":0.0436},{"c":31,"x":745.5,"y":0.0329},{"c":31,"x":752.4,"y":0.0142},{"c":31,"x":766.2,"y":0},
{"c":32,"x":720.7,"y":0},{"c":32,"x":735.7,"y":0.0131},{"c":32,"x":743.2,"y":0.0304},{"c":32,"x":750.7,"y":0.0402},{"c":32,"x":758.2,"y":0.0304},{"c":32,"x":765.7,"y":0.0131},{"c":32,"x":780.7,"y":0},
{"c":33,"x":736.3,"y":0},{"c":33,"x":753.1,"y":0.0116},{"c":33,"x":761.5,"y":0.0269},{"c":33,"x":769.9,"y":0.0356},{"c":33,"x":778.3,"y":0.0269},{"c":33,"x":786.7,"y":0.0116},{"c":33,"x":803.5,"y":0},
{"c":34,"x":738.2,"y":0},{"c":34,"x":757.7,"y":0.01},{"c":34,"x":767.5,"y":0.0232},{"c":34,"x":777.2,"y":0.0307},{"c":34,"x":787,"y":0.0232},{"c":34,"x":796.7,"y":0.01},{"c":34,"x":816.2,"y":0},
{"c":35,"x":723.8,"y":0},{"c":35,"x":749.3,"y":0.0076},{"c":35,"x":762.1,"y":0.0176},{"c":35,"x":774.8,"y":0.0233},{"c":35,"x":787.6,"y":0.0176},{"c":35,"x":800.3,"y":0.0076},{"c":35,"x":825.8,"y":0},
{"c":36,"x":813.7,"y":0},{"c":36,"x":826.8,"y":0.015},{"c":36,"x":833.3,"y":0.0347},{"c":36,"x":839.8,"y":0.046},{"c":36,"x":846.3,"y":0.0347},{"c":36,"x":852.9,"y":0.015},{"c":36,"x":865.9,"y":0},
{"c":37,"x":812.2,"y":0},{"c":37,"x":828.4,"y":0.0121},{"c":37,"x":836.5,"y":0.028},{"c":37,"x":844.6,"y":0.0371},{"c":37,"x":852.7,"y":0.028},{"c":37,"x":860.8,"y":0.0121},{"c":37,"x":877,"y":0},
{"c":38,"x":802,"y":0},{"c":38,"x":824.5,"y":0.0086},{"c":38,"x":835.8,"y":0.0199},{"c":38,"x":847,"y":0.0264},{"c":38,"x":858.3,"y":0.0199},{"c":38,"x":869.5,"y":0.0086},{"c":38,"x":892,"y":0},
{"c":39,"x":816.2,"y":0},{"c":39,"x":841.7,"y":0.0076},{"c":39,"x":854.5,"y":0.0176},{"c":39,"x":867.2,"y":0.0233},{"c":39,"x":880,"y":0.0176},{"c":39,"x":892.7,"y":0.0076},{"c":39,"x":918.2,"y":0},
{"c":40,"x":684.6,"y":0},{"c":40,"x":700.8,"y":0.012},{"c":40,"x":708.9,"y":0.0279},{"c":40,"x":717,"y":0.037},{"c":40,"x":725.1,"y":0.0279},{"c":40,"x":733.2,"y":0.012},{"c":40,"x":749.4,"y":0},
{"c":41,"x":660.1,"y":0},{"c":41,"x":674.1,"y":0.014},{"c":41,"x":681,"y":0.0325},{"c":41,"x":688,"y":0.043},{"c":41,"x":695,"y":0.0325},{"c":41,"x":702,"y":0.014},{"c":41,"x":715.9,"y":0},
{"c":42,"x":642.7,"y":0},{"c":42,"x":655.8,"y":0.015},{"c":42,"x":662.3,"y":0.0347},{"c":42,"x":668.8,"y":0.046},{"c":42,"x":675.3,"y":0.0347},{"c":42,"x":681.9,"y":0.015},{"c":42,"x":694.9,"y":0},
{"c":43,"x":558.7,"y":0},{"c":43,"x":567.9,"y":0.0215},{"c":43,"x":572.4,"y":0.0498},{"c":43,"x":577,"y":0.066},{"c":43,"x":581.6,"y":0.0498},{"c":43,"x":586.2,"y":0.0215},{"c":43,"x":595.3,"y":0},
{"c":44,"x":477.1,"y":0},{"c":44,"x":483.9,"y":0.0289},{"c":44,"x":487.2,"y":0.0672},{"c":44,"x":490.6,"y":0.089},{"c":44,"x":494,"y":0.0672},{"c":44,"x":497.4,"y":0.0289},{"c":44,"x":504.1,"y":0},
{"c":45,"x":526.7,"y":0},{"c":45,"x":535.1,"y":0.0231},{"c":45,"x":539.3,"y":0.0536},{"c":45,"x":543.5,"y":0.071},{"c":45,"x":547.7,"y":0.0536},{"c":45,"x":551.9,"y":0.0231},{"c":45,"x":560.3,"y":0},
{"c":46,"x":599,"y":0},{"c":46,"x":609.8,"y":0.018},{"c":46,"x":615.2,"y":0.0419},{"c":46,"x":620.6,"y":0.0555},{"c":46,"x":626,"y":0.0419},{"c":46,"x":631.4,"y":0.018},{"c":46,"x":642.2,"y":0},
{"c":47,"x":459.8,"y":0},{"c":47,"x":467.9,"y":0.0241},{"c":47,"x":472,"y":0.0559},{"c":47,"x":476,"y":0.074},{"c":47,"x":480.1,"y":0.0559},{"c":47,"x":484.1,"y":0.0241},{"c":47,"x":492.2,"y":0},
{"c":48,"x":494,"y":0},{"c":48,"x":512,"y":0.0107},{"c":48,"x":521,"y":0.0249},{"c":48,"x":530,"y":0.033},{"c":48,"x":539,"y":0.0249},{"c":48,"x":548,"y":0.0107},{"c":48,"x":566,"y":0},
{"c":49,"x":518,"y":0},{"c":49,"x":539,"y":0.0093},{"c":49,"x":549.5,"y":0.0215},{"c":49,"x":560,"y":0.0285},{"c":49,"x":570.5,"y":0.0215},{"c":49,"x":581,"y":0.0093},{"c":49,"x":602,"y":0},
{"c":50,"x":470,"y":0},{"c":50,"x":485,"y":0.013},{"c":50,"x":492.5,"y":0.0302},{"c":50,"x":500,"y":0.04},{"c":50,"x":507.5,"y":0.0302},{"c":50,"x":515,"y":0.013},{"c":50,"x":530,"y":0},
{"c":51,"x":595,"y":0},{"c":51,"x":617.5,"y":0.0086},{"c":51,"x":628.8,"y":0.0201},{"c":51,"x":640,"y":0.0266},{"c":51,"x":651.3,"y":0.0201},{"c":51,"x":662.5,"y":0.0086},{"c":51,"x":685,"y":0},
{"c":52,"x":446,"y":0},{"c":52,"x":458,"y":0.0163},{"c":52,"x":464,"y":0.0378},{"c":52,"x":470,"y":0.05},{"c":52,"x":476,"y":0.0378},{"c":52,"x":482,"y":0.0163},{"c":52,"x":494,"y":0}
],
"Cb":[{"x":350,"y":0},{"x":570.7,"y":0},{"x":582.4,"y":0.0069},{"x":586.3,"y":0.0166},{"x":590.2,"y":0.0311},{"x":594.1,"y":0.0452},{"x":598,"y":0.0512},{"x":601.9,"y":0.0452},{"x":605.8,"y":0.0311},{"x":609.7,"y":0.0166},{"x":613.6,"y":0.0069},{"x":625.3,"y":0},{"x":1000,"y":0}],
"D":[
{"c":1,"x":0,"y":3.89},{"c":1,"x":0.1,"y":2.6},{"c":1,"x":0.2,"y":1.9},{"c":1,"x":0.35,"y":1.3},{"c":1,"x":0.6,"y":0.8},{"c":1,"x":1,"y":0.4},{"c":1,"x":1.5,"y":0.15},{"c":1,"x":2.2,"y":0},
{"c":2,"x":0,"y":2.2},{"c":2,"x":0.2,"y":1.6},{"c":2,"x":0.5,"y":1.05},{"c":2,"x":1,"y":0.6},{"c":2,"x":1.5,"y":0.3},{"c":2,"x":2.2,"y":0.1},{"c":2,"x":3,"y":0},
{"c":3,"x":0,"y":1.7},{"c":3,"x":0.3,"y":1.3},{"c":3,"x":0.8,"y":0.85},{"c":3,"x":1.4,"y":0.5},{"c":3,"x":2,"y":0.25},{"c":3,"x":3,"y":0.05},{"c":3,"x":3.6,"y":0},
{"c":4,"x":0,"y":1.2},{"c":4,"x":0.5,"y":1},{"c":4,"x":1.2,"y":0.7},{"c":4,"x":2,"y":0.4},{"c":4,"x":2.8,"y":0.15},{"c":4,"x":4,"y":0},
{"c":5,"x":0,"y":0.9},{"c":5,"x":0.6,"y":0.8},{"c":5,"x":1.5,"y":0.6},{"c":5,"x":2.5,"y":0.35},{"c":5,"x":3.5,"y":0.12},{"c":5,"x":4.8,"y":0},
{"c":6,"x":0,"y":0.7},{"c":6,"x":1,"y":0.62},{"c":6,"x":2,"y":0.5},{"c":6,"x":3,"y":0.3},{"c":6,"x":4,"y":0.12},{"c":6,"x":5.5,"y":0},
{"c":7,"x":0,"y":0.55},{"c":7,"x":1,"y":0.55},{"c":7,"x":2,"y":0.48},{"c":7,"x":3,"y":0.35},{"c":7,"x":4.2,"y":0.15},{"c":7,"x":6,"y":0},
{"c":8,"x":0,"y":1},{"c":8,"x":0.4,"y":0.95},{"c":8,"x":1,"y":0.75},{"c":8,"x":1.8,"y":0.45},{"c":8,"x":2.6,"y":0.2},{"c":8,"x":3.6,"y":0},
{"c":9,"x":0.32,"y":0},{"c":9,"x":1.43,"y":0.1755},{"c":9,"x":1.985,"y":0.4077},{"c":9,"x":2.54,"y":0.54},{"c":9,"x":3.095,"y":0.4077},{"c":9,"x":3.65,"y":0.1755},{"c":9,"x":4.76,"y":0},
{"c":10,"x":2.2,"y":0},{"c":10,"x":3.7,"y":0.13},{"c":10,"x":4.45,"y":0.302},{"c":10,"x":5.2,"y":0.4},{"c":10,"x":5.95,"y":0.302},{"c":10,"x":6.7,"y":0.13},{"c":10,"x":8.2,"y":0},
{"c":11,"x":1.53,"y":0},{"c":11,"x":2.94,"y":0.1381},{"c":11,"x":3.65,"y":0.3209},{"c":11,"x":4.35,"y":0.425},{"c":11,"x":5.06,"y":0.3209},{"c":11,"x":5.76,"y":0.1381},{"c":11,"x":7.17,"y":0},
{"c":12,"x":2.85,"y":0},{"c":12,"x":4.43,"y":0.1235},{"c":12,"x":5.21,"y":0.2869},{"c":12,"x":6,"y":0.38},{"c":12,"x":6.79,"y":0.2869},{"c":12,"x":7.58,"y":0.1235},{"c":12,"x":9.15,"y":0},
{"c":13,"x":3.74,"y":0},{"c":13,"x":5.42,"y":0.1157},{"c":13,"x":6.26,"y":0.2688},{"c":13,"x":7.1,"y":0.356},{"c":13,"x":7.94,"y":0.2688},{"c":13,"x":8.78,"y":0.1157},{"c":13,"x":10.46,"y":0},
{"c":14,"x":4.4,"y":0},{"c":14,"x":6.2,"y":0.1082},{"c":14,"x":7.1,"y":0.2514},{"c":14,"x":8,"y":0.333},{"c":14,"x":8.9,"y":0.2514},{"c":14,"x":9.8,"y":0.1082},{"c":14,"x":11.6,"y":0},
{"c":15,"x":5.1,"y":0},{"c":15,"x":7.05,"y":0.1008},{"c":15,"x":8.03,"y":0.234},{"c":15,"x":9,"y":0.31},{"c":15,"x":9.98,"y":0.234},{"c":15,"x":10.95,"y":0.1008},{"c":15,"x":12.9,"y":0},
{"c":16,"x":5.75,"y":0},{"c":16,"x":7.93,"y":0.09},{"c":16,"x":9.01,"y":0.2091},{"c":16,"x":10.1,"y":0.277},{"c":16,"x":11.19,"y":0.2091},{"c":16,"x":12.28,"y":0.09},{"c":16,"x":14.45,"y":0},
{"c":17,"x":8.1,"y":0},{"c":17,"x":10.05,"y":0.1008},{"c":17,"x":11.03,"y":0.234},{"c":17,"x":12,"y":0.31},{"c":17,"x":12.98,"y":0.234},{"c":17,"x":13.95,"y":0.1008},{"c":17,"x":15.9,"y":0},
{"c":18,"x":9.55,"y":0},{"c":18,"x":11.73,"y":0.09},{"c":18,"x":12.81,"y":0.2091},{"c":18,"x":13.9,"y":0.277},{"c":18,"x":14.99,"y":0.2091},{"c":18,"x":16.08,"y":0.09},{"c":18,"x":18.25,"y":0},
{"c":19,"x":9.9,"y":0},{"c":19,"x":12.3,"y":0.0813},{"c":19,"x":13.5,"y":0.1888},{"c":19,"x":14.7,"y":0.25},{"c":19,"x":15.9,"y":0.1888},{"c":19,"x":17.1,"y":0.0813},{"c":19,"x":19.5,"y":0},
{"c":20,"x":12.2,"y":0},{"c":20,"x":14.45,"y":0.0858},{"c":20,"x":15.58,"y":0.1993},{"c":20,"x":16.7,"y":0.264},{"c":20,"x":17.83,"y":0.1993},{"c":20,"x":18.95,"y":0.0858},{"c":20,"x":21.2,"y":0},
{"c":21,"x":12.15,"y":0},{"c":21,"x":14.63,"y":0.078},{"c":21,"x":15.86,"y":0.1812},{"c":21,"x":17.1,"y":0.24},{"c":21,"x":18.34,"y":0.1812},{"c":21,"x":19.58,"y":0.078},{"c":21,"x":22.05,"y":0},
{"c":22,"x":14.75,"y":0},{"c":22,"x":17.23,"y":0.078},{"c":22,"x":18.46,"y":0.1812},{"c":22,"x":19.7,"y":0.24},{"c":22,"x":20.94,"y":0.1812},{"c":22,"x":22.18,"y":0.078},{"c":22,"x":24.65,"y":0},
{"c":23,"x":16.2,"y":0},{"c":23,"x":18.45,"y":0.0858},{"c":23,"x":19.58,"y":0.1993},{"c":23,"x":20.7,"y":0.264},{"c":23,"x":21.83,"y":0.1993},{"c":23,"x":22.95,"y":0.0858},{"c":23,"x":25.2,"y":0},
{"c":24,"x":5.9,"y":0},{"c":24,"x":8.45,"y":0.078},{"c":24,"x":9.73,"y":0.1812},{"c":24,"x":11,"y":0.24},{"c":24,"x":12.28,"y":0.1812},{"c":24,"x":13.55,"y":0.078},{"c":24,"x":16.1,"y":0},
{"c":25,"x":1.35,"y":0},{"c":25,"x":2.63,"y":0.1528},{"c":25,"x":3.26,"y":0.3549},{"c":25,"x":3.9,"y":0.47},{"c":25,"x":4.54,"y":0.3549},{"c":25,"x":5.18,"y":0.1528},{"c":25,"x":6.45,"y":0},
{"c":26,"x":0.99,"y":0},{"c":26,"x":2.15,"y":0.169},{"c":26,"x":2.72,"y":0.3926},{"c":26,"x":3.3,"y":0.52},{"c":26,"x":3.88,"y":0.3926},{"c":26,"x":4.46,"y":0.169},{"c":26,"x":5.61,"y":0},
{"c":27,"x":0,"y":0},{"c":27,"x":0.81,"y":0.1983},{"c":27,"x":1.305,"y":0.4606},{"c":27,"x":1.8,"y":0.61},{"c":27,"x":2.295,"y":0.4606},{"c":27,"x":2.79,"y":0.1983},{"c":27,"x":3.78,"y":0},
{"c":28,"x":2.9,"y":0},{"c":28,"x":4.7,"y":0.1082},{"c":28,"x":5.6,"y":0.2514},{"c":28,"x":6.5,"y":0.333},{"c":28,"x":7.4,"y":0.2514},{"c":28,"x":8.3,"y":0.1082},{"c":28,"x":10.1,"y":0},
{"c":29,"x":4.4,"y":0},{"c":29,"x":6.5,"y":0.0933},{"c":29,"x":7.55,"y":0.2167},{"c":29,"x":8.6,"y":0.287},{"c":29,"x":9.65,"y":0.2167},{"c":29,"x":10.7,"y":0.0933},{"c":29,"x":12.8,"y":0},
{"c":30,"x":2.3,"y":0},{"c":30,"x":3.95,"y":0.117},{"c":30,"x":4.78,"y":0.2718},{"c":30,"x":5.6,"y":0.36},{"c":30,"x":6.43,"y":0.2718},{"c":30,"x":7.25,"y":0.117},{"c":30,"x":8.9,"y":0},
{"c":31,"x":7.5,"y":0},{"c":31,"x":9.9,"y":0.0813},{"c":31,"x":11.1,"y":0.1888},{"c":31,"x":12.3,"y":0.25},{"c":31,"x":13.5,"y":0.1888},{"c":31,"x":14.7,"y":0.0813},{"c":31,"x":17.1,"y":0}
],
"Db":[{"x":0,"y":0},{"x":1.93,"y":0},{"x":2.26,"y":0.1623},{"x":2.425,"y":0.39},{"x":2.59,"y":0.7296},{"x":2.755,"y":1.06},{"x":2.92,"y":1.202},{"x":3.085,"y":1.06},{"x":3.25,"y":0.7296},{"x":3.415,"y":0.39},{"x":3.58,"y":0.1623},{"x":3.91,"y":0},{"x":30,"y":0}]
},
"concat":[
{"hconcat":[
 {"width":481,"height":308,
  "title":{"text":"A","dx":-97.9},
  "layer":[
   {"data":{"name":"A"},"mark":{"type":"line","strokeWidth":1.1,"opacity":0.85},
    "encoding":{
     "x":{"field":"x","type":"quantitative","scale":{"domain":[-20,420],"nice":false,"zero":false},"axis":{"values":[0,100,200,300,400],"title":"Stop Signal Reaction Time (ms)"}},
     "y":{"field":"y","type":"quantitative","scale":{"domain":[-0.0049,0.1013],"nice":false,"zero":false},"axis":{"values":[0,0.025,0.05,0.075,0.1],"format":".3f","title":"Density","titleX":-63.4}},
     "color":{"field":"c","type":"nominal","scale":{"range":["#858585","#b5b5b5","#666666","#9c9c9c","#c6c6c6","#8f8f8f","#747474","#a9a9a9"]},"legend":null}}},
   {"data":{"name":"Ab"},"mark":{"type":"line","color":"#000","strokeWidth":1.8},
    "encoding":{"x":{"field":"x","type":"quantitative"},"y":{"field":"y","type":"quantitative"}}}
  ]},
 {"width":504,"height":308,
  "title":{"text":"B","dx":-76.5},
  "layer":[
   {"data":{"name":"B"},"mark":{"type":"line","strokeWidth":1.1,"opacity":0.85},
    "encoding":{
     "x":{"field":"x","type":"quantitative","scale":{"domain":[-5,105],"nice":false,"zero":false},"axis":{"values":[0,25,50,75,100],"title":"Probability Trigger Failure (%)"}},
     "y":{"field":"y","type":"quantitative","scale":{"domain":[-0.0163,0.3342],"nice":false,"zero":false},"axis":{"values":[0,0.1,0.2,0.3],"format":".1f","title":"Density","titleX":-42.4}},
     "color":{"field":"c","type":"nominal","scale":{"range":["#858585","#b5b5b5","#666666","#9c9c9c","#c6c6c6","#8f8f8f","#747474","#a9a9a9"]},"legend":null}}},
   {"data":{"name":"Bb"},"mark":{"type":"line","color":"#000","strokeWidth":1.8},
    "encoding":{"x":{"field":"x","type":"quantitative"},"y":{"field":"y","type":"quantitative"}}}
  ]}
 ],"spacing":27},
{"hconcat":[
 {"width":480.3,"height":308,
  "title":{"text":"C","dx":-97.9},
  "layer":[
   {"data":{"name":"C"},"mark":{"type":"line","strokeWidth":1.1,"opacity":0.85},
    "encoding":{
     "x":{"field":"x","type":"quantitative","scale":{"domain":[335,1029.5],"nice":false,"zero":false},"axis":{"values":[400,600,800,1000],"format":"d","domain":false,"title":"Matching Finishing Time (ms)"}},
     "y":{"field":"y","type":"quantitative","scale":{"domain":[-0.0063,0.1353],"nice":false,"zero":false},"axis":{"values":[0,0.05,0.1],"format":".2f","offset":10.7,"title":"Density","titleX":-52.7}},
     "color":{"field":"c","type":"nominal","scale":{"range":["#858585","#b5b5b5","#666666","#9c9c9c","#c6c6c6","#8f8f8f","#747474","#a9a9a9"]},"legend":null}}},
   {"data":{"name":"Cb"},"mark":{"type":"line","color":"#000","strokeWidth":1.8},
    "encoding":{"x":{"field":"x","type":"quantitative"},"y":{"field":"y","type":"quantitative"}}},
   {"mark":{"type":"rule","color":"#000","strokeWidth":1.6,"clip":false},
    "encoding":{"x":{"datum":319.5},"x2":{"datum":1029.5},"y":{"datum":-0.0063}}}
  ]},
 {"width":518,"height":308,
  "title":{"text":"D","dx":-63.5},
  "layer":[
   {"data":{"name":"D"},"mark":{"type":"line","strokeWidth":1.1,"opacity":0.85},
    "encoding":{
     "x":{"field":"x","type":"quantitative","scale":{"domain":[-1.5,31.5],"nice":false,"zero":false},"axis":{"values":[0,10,20,30],"title":"Probability Go Failure (%)"}},
     "y":{"field":"y","type":"quantitative","scale":{"domain":[-0.19,4.08],"nice":false,"zero":false},"axis":{"values":[0,1,2,3,4],"format":"d","title":"Density","titleX":-29.4}},
     "color":{"field":"c","type":"nominal","scale":{"range":["#858585","#b5b5b5","#666666","#9c9c9c","#c6c6c6","#8f8f8f","#747474","#a9a9a9"]},"legend":null}}},
   {"data":{"name":"Db"},"mark":{"type":"line","color":"#000","strokeWidth":1.8},
    "encoding":{"x":{"field":"x","type":"quantitative"},"y":{"field":"y","type":"quantitative"}}}
  ]}
 ],"spacing":28}
],
"columns":1,
"align":"none",
"spacing":22
}
